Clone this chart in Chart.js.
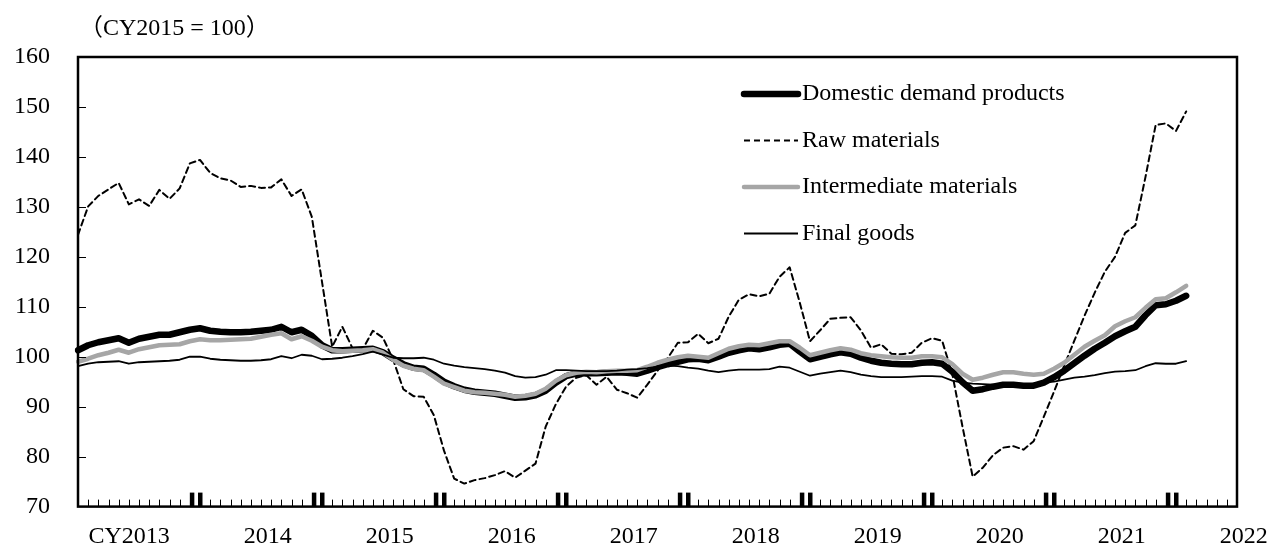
<!DOCTYPE html>
<html lang="en">
<head>
  <meta charset="UTF-8">
  <title>Domestic demand products by stage</title>
  <script src="https://cdn.jsdelivr.net/npm/chart.js"></script>
  <style>
    html, body { margin: 0; padding: 0; background: #fff; }
  </style>
</head>
<body>
  <canvas id="chart" width="1271" height="549"></canvas>

  <script>
    // monthly categories, Jan 2013 to Jul 2022 (axis runs a bit past the data)
    const months = [];
    for (let y = 2013; y <= 2022; y++) {
      for (let m = 1; m <= 12; m++) {
        if (y === 2022 && m > 7) break;
        months.push(y + '/' + String(m).padStart(2, '0'));
      }
    }

    const yearLabels = ['CY2013', '2014', '2015', '2016', '2017', '2018', '2019', '2020', '2021', '2022'];
    const unitLabel = '（CY2015 = 100）';

    const domestic = [
      101.3, 102.3, 102.9, 103.3, 103.7, 102.8, 103.6, 104.0, 104.4, 104.4, 104.9, 105.4,
      105.7, 105.2, 105.0, 104.9, 104.9, 105.0, 105.2, 105.4, 106.0, 104.9, 105.4, 104.2,
      102.3, 101.3, 101.3, 101.4, 101.5, 101.6, 100.9, 99.6, 98.5, 97.8, 97.6, 96.4,
      95.0, 94.1, 93.4, 93.0, 92.8, 92.6, 92.2, 91.8, 91.9, 92.3, 93.2, 94.8,
      96.1, 96.6, 96.7, 96.7, 96.8, 96.9, 96.8, 96.6, 97.2, 97.9, 98.5, 99.0,
      99.5, 99.6, 99.3, 100.0, 100.8, 101.3, 101.7, 101.5, 101.9, 102.4, 102.6, 101.0,
      99.5, 100.0, 100.5, 100.9, 100.6, 99.8, 99.2, 98.8, 98.6, 98.5, 98.5, 98.8,
      98.9, 98.6, 97.0, 94.9, 93.2, 93.5, 94.0, 94.4, 94.4, 94.2, 94.2, 94.8,
      95.9, 97.2, 98.7, 100.2, 101.6, 102.8, 104.1, 105.1, 106.0, 108.3, 110.3, 110.5,
      111.2, 112.2
    ];

    const rawMaterials = [
      124.4, 130.1, 132.2, 133.5, 134.8, 130.5, 131.5, 130.2, 133.4, 131.6, 133.7, 138.7,
      139.4, 136.8, 135.7, 135.3, 134.0, 134.2, 133.8, 133.9, 135.5, 132.2, 133.5, 128.0,
      115.0, 102.0, 106.0, 101.7, 101.5, 105.2, 103.8, 99.4, 93.5, 92.1, 92.0, 88.3,
      81.2, 75.6, 74.6, 75.3, 75.7, 76.3, 77.1, 75.8, 77.2, 78.6, 86.0, 90.5,
      94.0, 95.8, 96.3, 94.4, 96.0, 93.4, 92.7, 91.8, 94.4, 97.2, 99.7, 102.8,
      102.9, 104.6, 102.7, 103.6, 108.0, 111.4, 112.5, 112.1, 112.6, 116.0, 117.9, 110.8,
      103.1, 105.3, 107.6, 107.8, 107.9, 105.3, 101.8, 102.5, 100.6, 100.5, 100.8, 102.8,
      103.7, 103.2, 96.5, 86.0, 76.0, 77.8, 80.3, 81.8, 82.1, 81.4, 83.1, 88.0,
      93.0, 98.2, 103.2, 108.2, 112.8, 117.0, 120.0, 124.8, 126.3, 136.0, 146.4, 146.7,
      145.2, 149.1
    ];

    const intermediate = [
      99.0, 99.6, 100.3, 100.8, 101.4, 100.8, 101.5, 101.9, 102.3, 102.4, 102.5, 103.1,
      103.5, 103.3, 103.3, 103.4, 103.5, 103.6, 104.0, 104.4, 104.7, 103.5, 104.1, 103.2,
      102.0, 101.3, 101.1, 101.2, 101.3, 101.5, 100.8, 99.4, 98.2, 97.6, 97.3, 96.0,
      94.6, 93.9, 93.2, 92.9, 92.8, 92.6, 92.4, 92.0, 92.2, 92.6, 93.6, 95.2,
      96.3, 96.8, 97.0, 96.9, 97.1, 97.2, 97.2, 97.3, 98.0, 98.8, 99.4, 99.9,
      100.2, 100.0, 99.8, 100.7, 101.6, 102.1, 102.4, 102.3, 102.7, 103.1, 103.1, 101.8,
      100.3, 100.8, 101.3, 101.7, 101.4, 100.7, 100.3, 100.1, 99.9, 99.8, 99.8, 100.1,
      100.1, 99.9, 98.5, 96.6, 95.4, 95.8, 96.4, 96.9, 96.9, 96.6, 96.4, 96.6,
      97.6, 98.8, 100.4, 102.0, 103.2, 104.3, 106.1, 107.1, 107.9, 109.8, 111.5, 111.7,
      112.9, 114.2
    ];

    const finalGoods = [
      98.1, 98.6, 98.9, 99.0, 99.1, 98.6, 98.9, 99.0, 99.1, 99.2, 99.4, 100.0,
      100.0, 99.6, 99.4, 99.3, 99.2, 99.2, 99.3, 99.5, 100.1, 99.7, 100.4, 100.2,
      99.5, 99.6, 99.8, 100.1, 100.5, 101.0, 100.4, 99.8, 99.7, 99.7, 99.8, 99.4,
      98.6, 98.2, 97.9, 97.7, 97.5, 97.2, 96.8, 96.1, 95.8, 95.9, 96.4, 97.3,
      97.3, 97.2, 97.1, 97.1, 97.1, 97.2, 97.4, 97.5, 97.7, 98.0, 98.2, 98.1,
      97.8, 97.6, 97.2, 96.9, 97.2, 97.4, 97.4, 97.4, 97.5, 98.0, 97.8, 97.0,
      96.2, 96.6, 96.9, 97.2, 96.9, 96.4, 96.1, 95.9, 95.9, 95.9, 96.0, 96.1,
      96.1, 96.0, 95.2, 94.8, 94.6, 94.5, 94.4, 94.4, 94.4, 94.4, 94.6, 94.8,
      95.0, 95.4, 95.8, 96.0, 96.3, 96.7, 97.0, 97.1, 97.3, 98.1, 98.7, 98.6,
      98.6, 99.1
    ];

    const FONT = "'Liberation Serif', 'Times New Roman', 'Noto Sans CJK JP', serif";

    // frame, inward ticks, year labels, unit text and legend
    const decorations = {
      id: 'decorations',
      afterDatasetsDraw(chart) {
        const ctx = chart.ctx;
        const area = chart.chartArea;
        const xs = chart.scales.x;
        const ys = chart.scales.y;
        ctx.save();
        ctx.strokeStyle = '#000';
        ctx.fillStyle = '#000';

        // y ticks
        ctx.lineWidth = 1;
        for (let v = 80; v < 160; v += 10) {
          const y = Math.round(ys.getPixelForValue(v)) + 0.5;
          ctx.beginPath();
          ctx.moveTo(area.left, y);
          ctx.lineTo(area.left + 8, y);
          ctx.stroke();
        }

        // month ticks, thick pair at each year turn
        for (let i = 1; i < months.length; i++) {
          const x = xs.getPixelForValue(i);
          if (i % 12 === 11 || i % 12 === 0) {
            ctx.fillRect(x - 2 + (i % 12 === 11 ? 2 : 0), area.bottom - 14, 4.5, 14);
          } else {
            ctx.beginPath();
            ctx.moveTo(Math.round(x) + 0.5, area.bottom);
            ctx.lineTo(Math.round(x) + 0.5, area.bottom - 7);
            ctx.stroke();
          }
        }

        // plot frame
        ctx.lineWidth = 2.5;
        ctx.strokeRect(area.left, area.top, area.right - area.left, area.bottom - area.top);

        // year labels
        ctx.font = '24px ' + FONT;
        ctx.textAlign = 'right';
        ctx.textBaseline = 'middle';
        yearLabels.forEach((lab, k) => {
          const x = xs.getPixelForValue(12 * k + 6.67) + 24;
          ctx.fillText(lab, x, 537);
        });

        // unit
        ctx.textAlign = 'left';
        ctx.fillText(unitLabel, 79, 29);

        // legend
        const rows = [94, 140.5, 187, 233.5];
        chart.data.datasets.forEach((ds, k) => {
          const y = rows[k];
          ctx.save();
          ctx.strokeStyle = ds.borderColor;
          ctx.lineWidth = ds.legendWidth;
          ctx.lineCap = ds.borderWidth > 3 ? 'round' : 'butt';
          ctx.setLineDash(ds.borderDash || []);
          ctx.beginPath();
          ctx.moveTo(744, y);
          ctx.lineTo(798, y);
          ctx.stroke();
          ctx.restore();
          ctx.fillText(ds.label, 802, y);
        });

        ctx.restore();
      }
    };

    new Chart(document.getElementById('chart'), {
      type: 'line',
      data: {
        labels: months,
        datasets: [
          {
            label: 'Domestic demand products',
            data: domestic,
            borderColor: '#000',
            borderWidth: 6.5,
            legendWidth: 6.5,
            order: 4
          },
          {
            label: 'Raw materials',
            data: rawMaterials,
            borderColor: '#000',
            borderWidth: 2,
            legendWidth: 2,
            borderDash: [6, 4],
            order: 3
          },
          {
            label: 'Intermediate materials',
            data: intermediate,
            borderColor: '#a6a6a6',
            borderWidth: 4.5,
            legendWidth: 4.5,
            order: 2
          },
          {
            label: 'Final goods',
            data: finalGoods,
            borderColor: '#000',
            borderWidth: 1.8,
            legendWidth: 1.8,
            order: 1
          }
        ]
      },
      options: {
        responsive: false,
        animation: false,
        devicePixelRatio: 1,
        layout: { padding: { top: 57, right: 34, left: 0, bottom: 0 } },
        elements: {
          point: { radius: 0 },
          line: { tension: 0, borderJoinStyle: 'round', borderCapStyle: 'round', fill: false }
        },
        plugins: {
          legend: { display: false },
          tooltip: { enabled: false }
        },
        scales: {
          x: {
            type: 'category',
            offset: false,
            grid: { display: false },
            border: { display: false },
            ticks: { display: false },
            afterFit(scale) { scale.height = 42; }
          },
          y: {
            min: 70,
            max: 160,
            grid: { display: false, drawTicks: false },
            border: { display: false },
            ticks: {
              stepSize: 10,
              padding: 28,
              color: '#000',
              font: { family: FONT, size: 24 }
            },
            afterFit(scale) { scale.width = 78; }
          }
        }
      },
      plugins: [decorations]
    });
  </script>
</body>
</html>
